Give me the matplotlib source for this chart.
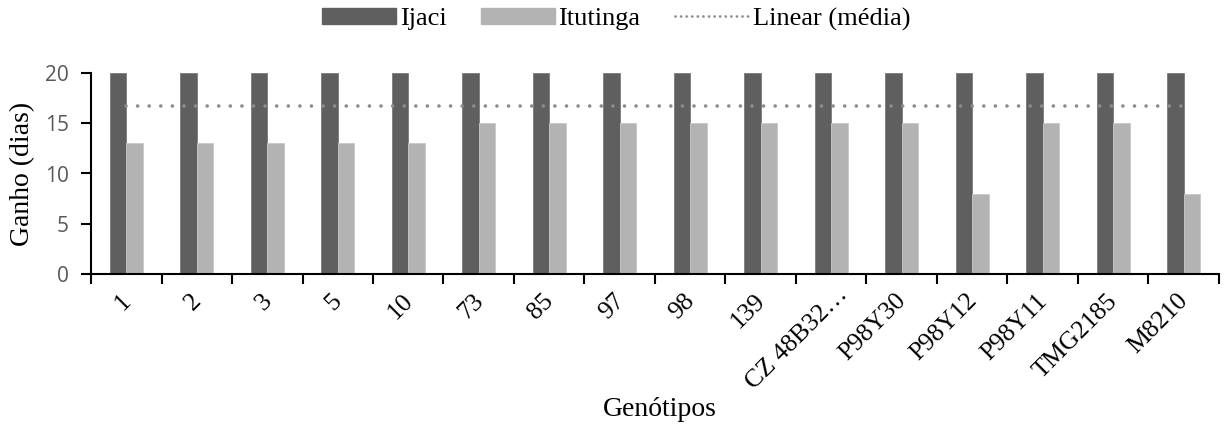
import numpy as np
import matplotlib.pyplot as plt
from matplotlib.lines import Line2D
from matplotlib.patches import Patch
import matplotlib.transforms as mtransforms

# dados
genotipos = ["1", "2", "3", "5", "10", "73", "85", "97", "98", "139",
             "CZ 48B32…", "P98Y30", "P98Y12", "P98Y11", "TMG2185", "M8210"]
ijaci = [20, 20, 20, 20, 20, 20, 20, 20, 20, 20, 20, 20, 20, 20, 20, 20]
itutinga = [13, 13, 13, 13, 13, 15, 15, 15, 15, 15, 15, 15, 8, 15, 15, 8]

media = np.mean(ijaci + itutinga)

serif = "Liberation Serif"
cor_ijaci = "#5f5f5f"
cor_itutinga = "#b3b3b3"
cor_media = "#8c8c8c"

fig = plt.figure(figsize=(12.24, 4.32), dpi=100)
ax = fig.add_axes([91 / 1224, 1 - 274 / 432, (1219 - 91) / 1224, (274 - 73) / 432])

x = np.arange(len(genotipos))
w = 0.237
ax.bar(x - w / 2, ijaci, w, color=cor_ijaci, edgecolor="#7a7a7a", linewidth=0.6)
ax.bar(x + w / 2, itutinga, w, color=cor_itutinga, edgecolor="#c8c8c8", linewidth=0.6)
ax.plot([x[0], x[-1]], [media, media], color=cor_media, linewidth=2.6,
        linestyle=(0, (0.01, 3.2)), dash_capstyle="round")

ax.set_xlim(-0.5, len(genotipos) - 0.5)
ax.set_ylim(0, 20)
ax.set_yticks([0, 5, 10, 15, 20])
ax.tick_params(axis="y", direction="out", length=7, width=1.5, labelsize=15,
               labelcolor="#595959", pad=9)
for t in ax.get_yticklabels():
    t.set_fontfamily("Open Sans")

# ticks entre categorias
ax.set_xticks(np.arange(len(genotipos) + 1) - 0.5)
ax.set_xticklabels([])
ax.set_xticks(x, minor=True)
ax.set_xticklabels(genotipos, minor=True, rotation=45, ha="right", va="center",
                   rotation_mode="anchor", fontfamily=serif, fontsize=18.5)
ax.tick_params(axis="x", which="major", direction="out", length=7, width=1.5)
ax.tick_params(axis="x", which="minor", length=0, pad=17)
for t in ax.get_xticklabels(minor=True):
    # rótulo truncado fica um pouco deslocado, como no Excel
    dx, dy = (13, 6) if t.get_text().endswith("…") else (1, 0)
    offset = mtransforms.ScaledTranslation(dx / 100, dy / 100, fig.dpi_scale_trans)
    t.set_transform(t.get_transform() + offset)

for s in ["top", "right"]:
    ax.spines[s].set_visible(False)
ax.spines["left"].set_linewidth(1.5)
ax.spines["bottom"].set_linewidth(1.5)

ax.set_ylabel("Ganho (dias)", fontfamily=serif, fontsize=20)
ax.yaxis.set_label_coords(-(91 - 35) / 1128, 0.5)
fig.text(660 / 1224, 1 - 410 / 432, "Genótipos", ha="center", va="center",
         fontfamily=serif, fontsize=20)

handles = [Patch(color=cor_ijaci, label="Ijaci"),
           Patch(color=cor_itutinga, label="Itutinga"),
           Line2D([], [], color=cor_media, linewidth=2, linestyle=(0, (0.01, 2.0)),
                  dash_capstyle="round", label="Linear (média)")]
fig.legend(handles=handles, loc="center", bbox_to_anchor=(616 / 1224, 1 - 19 / 432),
           ncol=3, frameon=False, prop={"family": serif, "size": 19},
           handlelength=2.8, handleheight=0.55, handletextpad=0.15, columnspacing=1.3)

fig.savefig("out.png", dpi=100)
